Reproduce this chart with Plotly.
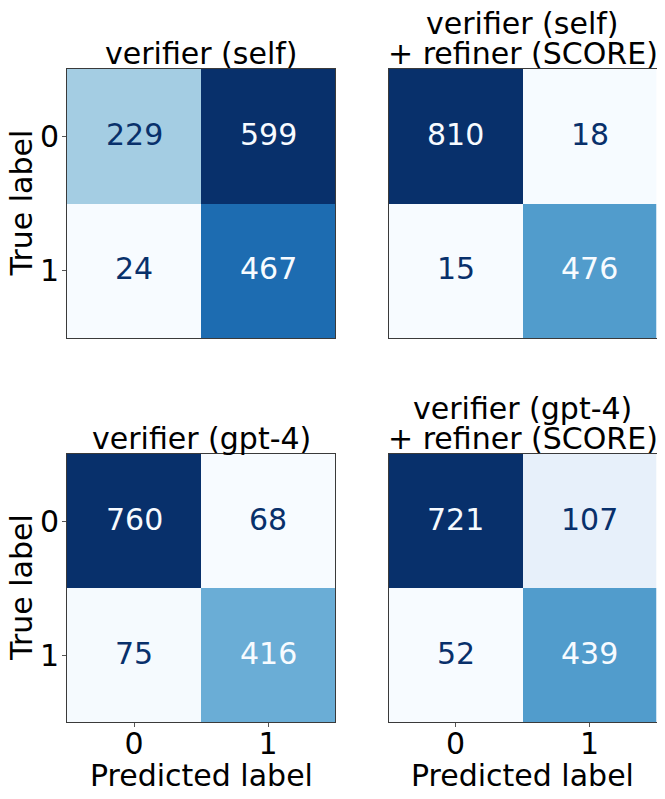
import plotly.graph_objects as go

# ---- data ----
labels = ["0", "1"]
titles = [
    ["verifier (self)"],
    ["verifier (self)", "+ refiner (SCORE)"],
    ["verifier (gpt-4)"],
    ["verifier (gpt-4)", "+ refiner (SCORE)"],
]
cm_self = [[229, 599], [24, 467]]
cm_self_score = [[810, 18], [15, 476]]
cm_gpt4 = [[760, 68], [75, 416]]
cm_gpt4_score = [[721, 107], [52, 439]]
matrices = [cm_self, cm_self_score, cm_gpt4, cm_gpt4_score]

# matplotlib "Blues"
blues = ["#f7fbff", "#deebf7", "#c6dbef", "#9ecae1", "#6baed6",
         "#4292c6", "#2171b5", "#08519c", "#08306b"]
colorscale = [[i / 8, c] for i, c in enumerate(blues)]

OFF = 8  # page body margin
W, H = 665 - 2 * OFF, 799 - 2 * OFF
FONT = "DejaVu Sans"
FS = 30

def xp(px):
    return (px - OFF) / W

def yp(py):
    return 1 - (py - OFF) / H

# panel pixel boxes in window coords (x0, x1, ytop, ybottom)
boxes = [
    (67, 335, 69, 338),
    (388.5, 656.5, 69, 338),
    (67, 335, 454, 722),
    (388.5, 656.5, 454, 722),
]

fig = go.Figure()
annotations = []
for k, (m, box) in enumerate(zip(matrices, boxes)):
    idx = "" if k == 0 else str(k + 1)
    x0, x1, yt, yb = box
    zmin = min(min(r) for r in m)
    zmax = max(max(r) for r in m)
    fig.add_trace(go.Heatmap(
        z=m, x=[0, 1], y=[0, 1], colorscale=colorscale,
        zmin=zmin, zmax=zmax, showscale=False, hoverinfo="skip",
        xaxis="x" + idx, yaxis="y" + idx,
    ))
    left = k in (0, 2)
    bottom = k in (2, 3)
    fig.layout["xaxis" + idx] = dict(
        domain=[xp(x0), min(1, xp(x1))], range=[-0.5, 1.5], anchor="y" + idx,
        tickvals=[0, 1], ticktext=labels, showticklabels=bottom,
        ticks="outside" if bottom else "", ticklen=4, tickcolor="#555",
        ticklabelstandoff=-9,
        tickfont=dict(size=FS, color="black", family=FONT),
        showline=True, mirror=True, linecolor="#3a3a3a", linewidth=1,
        showgrid=False, zeroline=False, fixedrange=True,
    )
    fig.layout["yaxis" + idx] = dict(
        domain=[yp(yb), yp(yt)], range=[1.5, -0.5], anchor="x" + idx,
        tickvals=[0, 1], ticktext=labels, showticklabels=left,
        ticks="outside" if left else "", ticklen=4, tickcolor="#555",
        ticklabelstandoff=-3,
        tickfont=dict(size=FS, color="black", family=FONT),
        showline=True, mirror=True, linecolor="#3a3a3a", linewidth=1,
        showgrid=False, zeroline=False, fixedrange=True,
    )
    thresh = (zmin + zmax) / 2
    for i in range(2):
        for j in range(2):
            v = m[i][j]
            annotations.append(dict(
                x=j, y=i, xref="x" + idx, yref="y" + idx, text=str(v),
                showarrow=False, yshift=2,
                font=dict(size=FS, family=FONT,
                          color=blues[-1] if v < thresh else blues[0]),
            ))
    # titles
    cx = (x0 + x1) / 2
    lines = titles[k]
    for n, line in enumerate(reversed(lines)):
        cy = yt - 16 - n * 30
        annotations.append(dict(
            x=xp(cx), y=yp(cy), xref="paper", yref="paper", text=line,
            showarrow=False, xanchor="center", yanchor="middle",
            font=dict(size=FS, family=FONT, color="black"),
        ))
    if left:
        annotations.append(dict(
            x=xp(21), y=yp((yt + yb) / 2), xref="paper", yref="paper",
            text="True label", textangle=-90, showarrow=False,
            xanchor="center", yanchor="middle",
            font=dict(size=FS, family=FONT, color="black"),
        ))
    if bottom:
        annotations.append(dict(
            x=xp(cx), y=yp(775), xref="paper", yref="paper",
            text="Predicted label", showarrow=False,
            xanchor="center", yanchor="middle",
            font=dict(size=FS, family=FONT, color="black"),
        ))

fig.update_layout(
    width=W, height=H, margin=dict(l=0, r=0, t=0, b=0),
    paper_bgcolor="white", plot_bgcolor="white",
    annotations=annotations, showlegend=False,
    font=dict(family=FONT),
)
fig.write_html("out.html")
